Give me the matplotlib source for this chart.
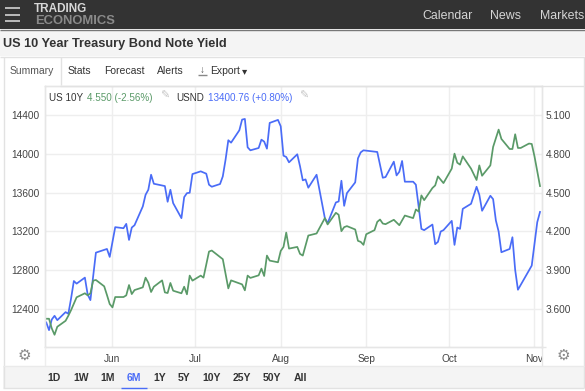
import pandas as pd
import matplotlib
matplotlib.use("Agg")
import matplotlib.pyplot as plt
from matplotlib.patches import Rectangle

plt.rcParams['font.family'] = ['Liberation Sans', 'DejaVu Sans']

# days counted from 1 Jun 2023
usnd_days = [-24, -23, -22, -21, -20, -17, -16, -15, -14, -13, -10, -9, -8, -6, -2, -1, 1, 4, 5, 6, 7, 8, 11, 12,
             13, 14, 15, 19, 20, 21, 22, 25, 26, 27, 28, 29, 32, 34, 35, 36, 39, 40, 41, 42, 43, 46, 47, 48, 49, 50,
             53, 54, 55, 56, 57, 60, 61, 62, 63, 64, 67, 68, 69, 70, 71, 74, 77, 78, 81, 82, 83, 84, 85, 88, 89, 90,
             91, 96, 98, 99, 102, 103, 104, 105, 106, 109, 110, 111, 112, 113, 116, 117, 118, 119, 120, 123, 124,
             125, 126, 127, 130, 132, 133, 134, 137, 138, 139, 140, 141, 144, 145, 146, 147, 152, 154, 155]
usnd_values = [12260, 12181, 12291, 12329, 12284, 12367, 12350, 12509, 12688, 12661, 12723, 12550, 12491, 12981,
               13019, 12937, 13244, 13233, 13278, 13112, 13240, 13264, 13458, 13578, 13630, 13785, 13692, 13668,
               13506, 13630, 13492, 13337, 13554, 13595, 13599, 13792, 13820, 13796, 13682, 13661, 13689, 13768,
               13940, 14141, 14116, 14244, 14354, 14361, 14068, 14037, 14061, 14147, 14127, 14054, 14320, 14351,
               14285, 13982, 13968, 13913, 13996, 13872, 13727, 13737, 13651, 13785, 13337, 13285, 13499, 13509,
               13723, 13464, 13595, 13706, 13954, 14016, 14037, 14020, 13754, 13761, 13920, 13778, 13816, 13927,
               13713, 13713, 13682, 13458, 13226, 13213, 13271, 13068, 13092, 13199, 13213, 13309, 13061, 13240,
               13226, 13433, 13485, 13661, 13578, 13413, 13568, 13533, 13313, 13199, 12985, 13019, 13140, 12802,
               12598, 12847, 13295, 13401]

yield_days = [-24, -23, -22, -21, -20, -17, -16, -15, -13, -10, -9, -8, -7, -6, -3, -2, -1, 0, 1, 4, 5, 6, 7, 8, 11,
              12, 13, 14, 15, 18, 19, 20, 21, 22, 25, 26, 27, 28, 29, 32, 33, 35, 36, 40, 42, 43, 47, 48, 49, 50, 53,
              54, 55, 56, 57, 60, 61, 62, 63, 64, 67, 68, 69, 71, 74, 77, 78, 81, 82, 83, 84, 85, 88, 89, 90, 91, 92,
              95, 96, 97, 98, 99, 102, 104, 106, 109, 110, 111, 112, 113, 116, 117, 118, 120, 123, 124, 125, 126,
              127, 130, 132, 133, 134, 137, 138, 140, 141, 144, 145, 146, 147, 148, 151, 152, 153, 155]
yield_values = [3.524, 3.524, 3.449, 3.400, 3.462, 3.508, 3.547, 3.591, 3.690, 3.721, 3.705, 3.721, 3.819, 3.824,
                3.775, 3.708, 3.638, 3.612, 3.692, 3.692, 3.705, 3.785, 3.715, 3.746, 3.767, 3.842, 3.803, 3.731,
                3.772, 3.821, 3.728, 3.723, 3.801, 3.741, 3.721, 3.772, 3.713, 3.858, 3.819, 3.858, 3.842, 4.044,
                4.052, 3.985, 3.759, 3.821, 3.790, 3.744, 3.858, 3.840, 3.860, 3.912, 3.855, 4.013, 3.974, 3.961,
                4.049, 4.080, 4.191, 4.067, 4.080, 4.026, 4.013, 4.168, 4.184, 4.303, 4.254, 4.344, 4.329, 4.202,
                4.233, 4.241, 4.215, 4.127, 4.119, 4.096, 4.178, 4.210, 4.274, 4.292, 4.261, 4.256, 4.290, 4.248,
                4.323, 4.303, 4.370, 4.354, 4.479, 4.442, 4.536, 4.556, 4.626, 4.574, 4.686, 4.802, 4.732, 4.717,
                4.781, 4.686, 4.598, 4.711, 4.631, 4.711, 4.854, 4.988, 4.916, 4.838, 4.838, 4.952, 4.846, 4.846,
                4.880, 4.877, 4.781, 4.551]

usnd_ticks = [12400, 12800, 13200, 13600, 14000, 14400]
yield_ticks = [3.6, 3.9, 4.2, 4.5, 4.8, 5.1]
month_ticks = ["2023-06-01", "2023-07-01", "2023-08-01", "2023-09-01", "2023-10-01", "2023-11-01"]
month_labels = ["Jun", "Jul", "Aug", "Sep", "Oct", "Nov"]
nav_items = ["Calendar", "News", "Markets"]
tab_items = ["Stats", "Forecast", "Alerts"]
range_items = ["1D", "1W", "1M", "6M", "1Y", "5Y", "10Y", "25Y", "50Y", "All"]

W, H = 585, 391
BLUE = "#4a6cf7"
GREEN = "#5a9a68"
TEXT = "#333333"
GRID = "#eeeeee"


def to_dates(days):
    return pd.Timestamp("2023-06-01") + pd.to_timedelta(days, unit="D")


fig = plt.figure(figsize=(W / 100, H / 100), dpi=100, facecolor="white")

# plot box, in pixels of the page
left, right, top, bottom = 45, 541.5, 85.5, 347
ax = fig.add_axes([left / W, 1 - bottom / H, (right - left) / W, (bottom - top) / H])
ax.set_ylim(12007, 14706)
ax.set_xlim(pd.Timestamp("2023-05-07 13:00"), pd.Timestamp("2023-11-03 13:00"))
ax.plot(to_dates(usnd_days), usnd_values, color=BLUE, lw=1.25, zorder=3)
ax.set_yticks(usnd_ticks)
ax.set_xticks(pd.to_datetime(month_ticks))
ax.set_xticklabels(month_labels)
ax.grid(True, color=GRID, lw=1)
ax.set_axisbelow(True)
ax.tick_params(length=0, labelsize=7.3, labelcolor="#444444")
ax.tick_params(axis="x", pad=5)
ax.tick_params(axis="y", pad=4)

ax2 = ax.twinx()
ax2.set_ylim(5.1 + (12007 - 14400) * 0.00075, 5.1 + (14706 - 14400) * 0.00075)
ax2.plot(to_dates(yield_days), yield_values, color=GREEN, lw=1.25, zorder=2)
ax2.set_yticks(yield_ticks)
ax2.set_yticklabels([f"{t:.3f}" for t in yield_ticks])
ax2.tick_params(length=0, labelsize=7.3, labelcolor="#444444", pad=3)

for a in (ax, ax2):
    for s in a.spines.values():
        s.set_color("#e6e6e6")
        s.set_linewidth(1)

# page chrome goes on an overlay in pixel coords
ov = fig.add_axes([0, 0, 1, 1], facecolor="none")
ov.set_xlim(0, W)
ov.set_ylim(H, 0)
ov.axis("off")


def box(x, y, w, h, color, **kw):
    ov.add_patch(Rectangle((x, y), w, h, facecolor=color, edgecolor="none", **kw))


def hline(y, x0, x1, color="#e2e2e2", lw=1):
    ov.plot([x0, x1], [y, y], color=color, lw=lw, solid_capstyle="butt")


def vline(x, y0, y1, color="#e2e2e2", lw=1):
    ov.plot([x, x], [y0, y1], color=color, lw=lw, solid_capstyle="butt")


box(0, 0, W, 29, "#333333")
hline(29.5, 0, W, color="#777777")
box(0, 30, W, 26, "#f4f4f4")
hline(56.5, 0, W)
for y in (8, 14.5, 20.5):
    hline(y, 5, 20, color="#bbbbbb", lw=1.4)
ov.text(34, 9.5, "TRADING", color="#d8d8d8", fontsize=8.5, fontweight="bold", va="center")
ov.text(35, 20.5, "ECONOMICS", color="#8a8a8a", fontsize=9.4, fontweight="bold", va="center")
for label, x in zip(nav_items, [422, 490, 540]):
    ov.text(x, 16, label, color="#d5d5d5", fontsize=8.9, va="center")

ov.text(3, 43.5, "US 10 Year Treasury Bond Note Yield", color="#333333", fontsize=9.2, fontweight="bold", va="center")

# tabs
hline(85.5, 60, W)
vline(3.5, 57, 388)
vline(60.5, 57, 85)
vline(584, 57, 388)
ov.text(10, 71.5, "Summary", color="#555555", fontsize=7.5, va="center")
for label, x in zip(tab_items, [68, 104, 157]):
    ov.text(x, 71.5, label, color=TEXT, fontsize=7.5, va="center")
ov.text(202, 70, "\u2193", color="#555555", fontsize=7, va="center", ha="center")
hline(75, 198, 207, color="#888888")
ov.text(210, 71.5, "Export", color=TEXT, fontsize=7.5, va="center")
ov.text(245, 71, "\u25be", color=TEXT, fontsize=7.5, va="center", ha="center")

# legend row
ov.text(49, 98, "US 10Y", color=TEXT, fontsize=7.1, va="center")
ov.text(87, 98, "4.550 (-2.56%)", color=GREEN, fontsize=7.1, va="center")
ov.text(160, 96, "\u270e", color="#c4c4c4", fontsize=8, va="center")
ov.text(176, 98, "USND", color=TEXT, fontsize=7.1, va="center")
ov.text(208, 98, "13400.76 (+0.80%)", color=BLUE, fontsize=7.1, va="center")
ov.text(299, 96, "\u270e", color="#c4c4c4", fontsize=8, va="center")

# Nov label is cut off by the axis end
box(542, 349, 8, 14, "white")
vline(44.7, 347, 366, color="#eeeeee")
vline(541.5, 347, 366, color="#e6e6e6")
hline(347, 541, 546, color="#e6e6e6")
ov.text(24, 355.5, "\u2699", color="#8a8a8a", fontsize=11, va="center", ha="center")
ov.text(563, 355.5, "\u2699", color="#8a8a8a", fontsize=11, va="center", ha="center")

# range bar
box(3, 366, 581, 22, "#f4f4f4")
hline(365.5, 3, 584, color="#eaeaea")
hline(388, 3, 584)
for label, x in zip(range_items, [54, 81, 108, 134, 160, 184, 212, 242, 272, 300]):
    color = BLUE if label == "6M" else TEXT
    ov.text(x, 378, label, color=color, fontsize=7.5, fontweight="bold", va="center", ha="center")
hline(387.5, 121, 147, color=BLUE, lw=1)

fig.savefig("out.png", dpi=100)
